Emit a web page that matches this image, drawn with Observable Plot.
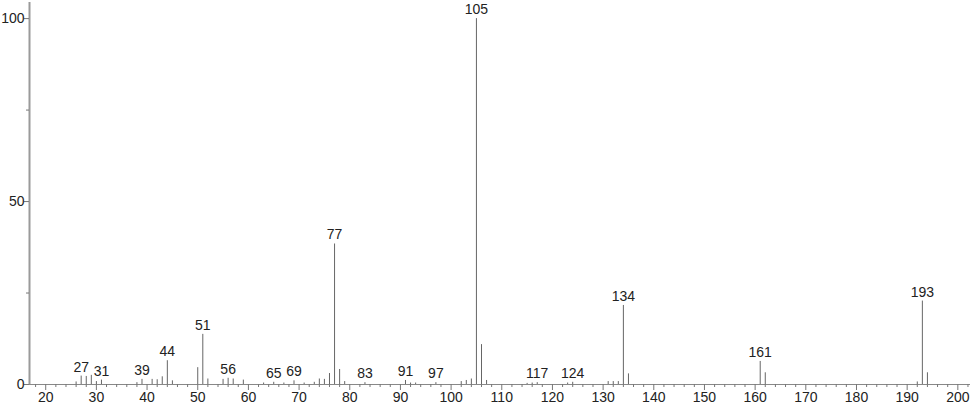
<!DOCTYPE html>
<html>
<head>
<meta charset="utf-8">
<script src="https://cdn.jsdelivr.net/npm/d3@7"></script>
<script src="https://cdn.jsdelivr.net/npm/@observablehq/plot@0.6"></script>
<style>
  html, body { margin: 0; padding: 0; background: white; }
</style>
</head>
<body>
<div id="chart"></div>
<script>
const mz = [26, 27, 28, 29, 30, 31, 38, 39, 41, 42, 43, 44, 45, 50, 51, 52, 55, 56, 57, 59,
  63, 65, 67, 69, 71, 73, 74, 75, 76, 77, 78, 79, 83, 91, 92, 93, 97, 102, 103, 104,
  105, 106, 107, 115, 116, 117, 123, 124, 131, 132, 133, 134, 135, 161, 162, 192, 193, 194];
const intensity = [0.7, 2.3, 2.2, 2.5, 0.8, 1.2, 0.5, 1.4, 1.4, 1.3, 2.1, 6.5, 1.0, 4.6, 13.7, 1.5, 1.4, 1.7, 1.5, 1.2,
  0.4, 0.6, 0.4, 1.0, 0.4, 0.6, 1.5, 1.4, 3.0, 38.4, 4.1, 0.8, 0.5, 1.1, 0.4, 0.4, 0.5, 0.8, 1.1, 1.5,
  100, 10.9, 1.1, 0.3, 0.4, 0.5, 0.4, 0.6, 0.8, 0.8, 0.8, 21.6, 2.9, 6.3, 3.2, 0.7, 22.8, 3.2];
const labeled = [27, 31, 39, 44, 51, 56, 65, 69, 77, 83, 91, 97, 105, 117, 124, 134, 161, 193];
const xTicks = d3.range(20, 201, 10);
const xMinor = d3.range(18, 203, 2).filter(d => d % 10 !== 0);
const yTicks = [0, 50, 100];
const yMinor = [25, 75];

const peaks = mz.map((m, i) => ({mz: m, i: intensity[i]}));
const labels = peaks.filter(d => labeled.includes(d.mz));

const xDomain = [16.8, 202.5];

const chart = Plot.plot({
  width: 974,
  height: 406,
  marginLeft: 29,
  marginRight: 4,
  marginTop: 2,
  marginBottom: 22,
  x: {domain: xDomain, axis: null, label: null},
  y: {domain: [0, 104.4], axis: null, label: null},
  style: {fontFamily: "'Liberation Sans', Arial, sans-serif", fontSize: "14px", color: "#222", background: "white"},
  marks: [
    Plot.ruleY([0], {stroke: "#888"}),
    Plot.ruleX([xDomain[0]], {stroke: "#9a9a9a", strokeWidth: 2}),
    Plot.ruleX(peaks, {x: "mz", y1: 0, y2: "i", stroke: "#666", strokeWidth: 1}),
    Plot.axisX(xTicks, {tickSize: 6, tickPadding: 2, stroke: "#777", fontSize: 14, label: null}),
    Plot.axisX(xMinor, {tickSize: 3, text: null, stroke: "#777", label: null}),
    Plot.axisY(yTicks, {tickSize: 5, tickPadding: 0, stroke: "#777", fontSize: 14, label: null}),
    Plot.axisY(yMinor, {tickSize: 3, text: null, stroke: "#777", label: null}),
    Plot.text(labels, {x: "mz", y: "i", text: d => String(d.mz), dy: -9, fontSize: 14, fill: "#222"})
  ]
});
document.getElementById("chart").appendChild(chart);
</script>
</body>
</html>
